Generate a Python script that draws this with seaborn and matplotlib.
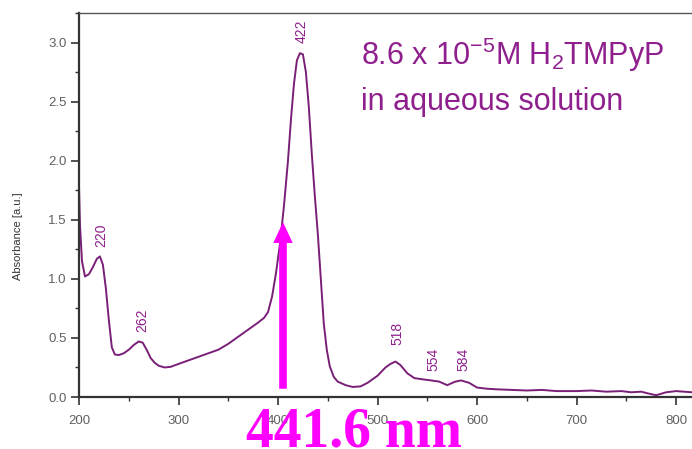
import numpy as np
import pandas as pd
import seaborn as sns
import matplotlib.pyplot as plt
from matplotlib.ticker import MultipleLocator

# spectrum
wavelength = [200, 201, 203, 206, 210, 214, 218, 221, 224, 227, 230, 233, 236, 240,
              245, 250, 255, 260, 264, 268, 272, 276, 280, 286, 292, 300, 310, 320,
              330, 340, 350, 360, 370, 380, 386, 390, 394, 398, 402, 406, 410, 413,
              416, 419, 422, 425, 428, 431, 434, 437, 440, 443, 446, 449, 452, 456,
              460, 468, 475, 483, 490, 500, 508, 513, 518, 523, 530, 537, 545, 554,
              562, 570, 578, 584, 592, 600, 610, 620, 635, 650, 665, 680, 700, 715,
              730, 745, 755, 765, 772, 780, 790, 800, 808, 816]
absorbance = [1.78, 1.45, 1.15, 1.02, 1.04, 1.10, 1.17, 1.19, 1.12, 0.92, 0.65, 0.42, 0.36, 0.355,
              0.37, 0.40, 0.44, 0.47, 0.46, 0.40, 0.33, 0.29, 0.265, 0.25, 0.255, 0.28, 0.31, 0.34,
              0.37, 0.40, 0.45, 0.51, 0.57, 0.63, 0.67, 0.72, 0.85, 1.05, 1.30, 1.62, 2.00, 2.35,
              2.65, 2.85, 2.91, 2.90, 2.75, 2.45, 2.05, 1.70, 1.38, 1.00, 0.62, 0.40, 0.26, 0.17,
              0.13, 0.10, 0.085, 0.09, 0.12, 0.18, 0.25, 0.28, 0.30, 0.27, 0.20, 0.16, 0.15, 0.14,
              0.13, 0.10, 0.13, 0.14, 0.12, 0.08, 0.07, 0.065, 0.06, 0.055, 0.06, 0.05, 0.05, 0.055,
              0.045, 0.05, 0.04, 0.045, 0.03, 0.015, 0.04, 0.05, 0.045, 0.04]

peak_wl = [220, 262, 422, 518, 554, 584]
peak_abs = [1.19, 0.47, 2.91, 0.30, 0.14, 0.14]
peak_labels = ["220", "262", "422", "518", "554", "584"]

arrow_wl = 405
arrow_from, arrow_to = 0.07, 1.48

df = pd.DataFrame({"wavelength": wavelength, "absorbance": absorbance})

sns.set_style("ticks")
plt.rcParams["font.family"] = ["Liberation Sans", "DejaVu Sans"]
plt.rcParams["mathtext.fontset"] = "custom"
plt.rcParams["mathtext.rm"] = "Liberation Sans"
plt.rcParams["mathtext.it"] = "Liberation Sans"

line_col = "#7A1F78"
text_col = "#8E1F8C"
pink = "#FF00FF"

fig = plt.figure(figsize=(6.92, 4.49), dpi=100)
ax = fig.add_axes([79 / 692, 52 / 449, 1 - 79 / 692, 384 / 449])

sns.lineplot(data=df, x="wavelength", y="absorbance", ax=ax, color=line_col, lw=1.4)

ax.set_xlim(200, 816)
ax.set_ylim(0, 3.25)
ax.xaxis.set_major_locator(MultipleLocator(100))
ax.xaxis.set_minor_locator(MultipleLocator(50))
ax.yaxis.set_major_locator(MultipleLocator(0.5))
ax.yaxis.set_minor_locator(MultipleLocator(0.25))
ax.yaxis.set_major_formatter(plt.FormatStrFormatter("%.1f"))
ax.tick_params(which="major", length=6, width=1.2, color="#333333",
               labelsize=9.5, labelcolor="#606060", pad=3)
ax.tick_params(axis="x", which="major", pad=7)
ax.tick_params(which="minor", length=3, width=1.0, color="#333333")

for s in ["left", "bottom"]:
    ax.spines[s].set_linewidth(1.6)
    ax.spines[s].set_color("#333333")
ax.spines["top"].set_linewidth(1.0)
ax.spines["top"].set_color("#555555")
ax.spines["right"].set_visible(False)

ax.set_xlabel("")
ax.set_ylabel("Absorbance [a.u.]", fontsize=8, color="#333333")
ax.yaxis.set_label_coords(-0.092, 0.42)

# peak labels
for wl, a, lab in zip(peak_wl, peak_abs, peak_labels):
    off = 12 if lab == "518" else 7
    ax.annotate(lab, (wl + 2, a), xytext=(0, off), textcoords="offset points",
                rotation=90, ha="center", va="bottom", fontsize=10, color=text_col)

ax.text(483, 2.81, r"8.6 x 10$^{\mathrm{-5}}$M H$_{\mathrm{2}}$TMPyP",
        fontsize=22, color=text_col, va="baseline", ha="left")
ax.text(483, 2.43, "in aqueous solution", fontsize=22, color=text_col,
        va="baseline", ha="left")

ax.annotate("", xy=(arrow_wl, arrow_to), xytext=(arrow_wl, arrow_from),
            arrowprops=dict(facecolor=pink, edgecolor="none", width=5.5,
                            headwidth=14, headlength=15))

fig.text(354 / 692, 0.005, "441.6 nm", fontsize=40, fontweight="bold",
         family=["Liberation Serif", "DejaVu Serif"], color=pink,
         ha="center", va="baseline")

fig.savefig("out.png", dpi=100)
